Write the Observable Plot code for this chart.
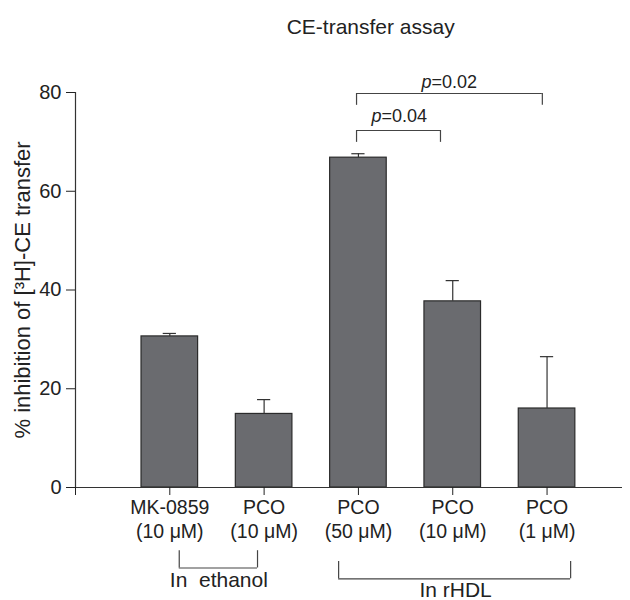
<!DOCTYPE html>
<html>
<head>
<meta charset="utf-8">
<script src="https://cdn.jsdelivr.net/npm/d3@7"></script>
<script src="https://cdn.jsdelivr.net/npm/@observablehq/plot@0.6"></script>
<style>
  html, body { margin: 0; padding: 0; background: #fff; }
  svg { font-family: "Liberation Sans", Arial, Helvetica, sans-serif; }
</style>
</head>
<body>
<div id="chart"></div>
<script>
// ---- data ----
const categories = ["MK-0859", "PCO", "PCO", "PCO", "PCO"];
const doses = ["(10 μM)", "(10 μM)", "(50 μM)", "(10 μM)", "(1 μM)"];
const positions = [1, 2, 3, 4, 5];
const values = [30.6, 14.9, 66.8, 37.7, 16.0];
const errors = [0.6, 2.9, 0.8, 4.2, 10.5];
const yTicks = [0, 20, 40, 60, 80];

// significance brackets (from bar, to bar, level, label anchor, label)
const sigFrom = [2.98, 2.98];
const sigTo = [3.87, 4.95];
const sigLevel = [72.3, 79.8];
const sigTextX = [3.245, 3.775];
const sigTextY = [75.1, 82.1];
const sigLabel = ["=0.04", "=0.02"];

// group brackets below the axis
const groupNames = ["In  ethanol", "In rHDL"];
const groupFrom = [1.1, 2.79];
const groupTo = [1.93, 5.25];
const groupLevel = [-12.8, -15.0];
const groupTextX = [1.52, 4.03];
const groupTextY = [-17.2, -19.15];

const title = "CE-transfer assay";
const yLabel = "% inhibition of [³H]-CE transfer";

// ---- tables ----
const bars = positions.map((p, i) => ({x: p, cat: categories[i], dose: doses[i], v: values[i], e: errors[i]}));
const sig = sigFrom.map((a, i) => ({a, b: sigTo[i], y: sigLevel[i], tx: sigTextX[i], ty: sigTextY[i], label: sigLabel[i]}));
const groups = groupNames.map((n, i) => ({name: n, a: groupFrom[i], b: groupTo[i], y: groupLevel[i], tx: groupTextX[i], ty: groupTextY[i]}));

const hw = 0.3;    // half bar width (x units)
const cap = 0.07;  // half cap width
const drop = 2.4;  // bracket leg length (y units)
const gdrop = 3.5;

const sigLegs = sig.flatMap(d => [{x: d.a, y1: d.y, y2: d.y - drop}, {x: d.b, y1: d.y, y2: d.y - drop}]);
const groupLegs = groups.flatMap(d => [{x: d.a, y1: d.y, y2: d.y - gdrop}, {x: d.b, y1: d.y, y2: d.y - gdrop}]);

const ink = "#333";
const font = '"Liberation Sans", Arial, sans-serif';

const chart = Plot.plot({
  width: 630,
  height: 600,
  marginLeft: 75,
  marginRight: 8,
  marginTop: 92,
  marginBottom: 113,
  style: {fontFamily: font, background: "#fff", overflow: "visible"},
  x: {type: "linear", domain: [0, 5.8], axis: null},
  y: {type: "linear", domain: [0, 80], axis: null},
  marks: [
    // bars
    Plot.rect(bars, {x1: d => d.x - hw, x2: d => d.x + hw, y1: 0, y2: "v", fill: "#6a6b6f", stroke: "#2b2b2b", strokeWidth: 1.2}),
    // error bars
    Plot.ruleX(bars, {x: "x", y1: "v", y2: d => d.v + d.e, stroke: ink, strokeWidth: 1.2}),
    Plot.ruleY(bars, {y: d => d.v + d.e, x1: d => d.x - cap, x2: d => d.x + cap, stroke: ink, strokeWidth: 1.2}),
    // axes lines
    Plot.ruleX([0], {y1: 0, y2: 80, stroke: ink, strokeWidth: 1.2}),
    Plot.ruleY([0], {x1: 0, x2: 5.8, stroke: ink, strokeWidth: 1.2}),
    // y axis ticks + labels
    Plot.axisY({ticks: yTicks, anchor: "left", tickSize: 9, tickPadding: 5, fontSize: 20, color: "#222", label: null}),
    // x axis ticks + labels
    Plot.axisX({ticks: [0, ...positions], anchor: "bottom", tickSize: 8, tickPadding: 2, tickFormat: d => d === 0 ? "" : `${categories[d - 1]}\n${doses[d - 1]}`, fontSize: 19.5, lineHeight: 1.22, color: "#222", label: null}),
    // y label
    Plot.text([yLabel], {x: 0, y: 40, rotate: -90, dx: -53, textAnchor: "middle", fontSize: 22, fill: "#222"}),
    // title
    Plot.text([title], {x: 3.13, y: 93.2, fontSize: 21, fill: "#222"}),
    // significance brackets
    Plot.ruleY(sig, {y: "y", x1: "a", x2: "b", stroke: "#444", strokeWidth: 1.2}),
    Plot.ruleX(sigLegs, {x: "x", y1: "y1", y2: "y2", stroke: "#444", strokeWidth: 1.2}),
    Plot.text(sig, {x: "tx", y: "ty", text: "label", textAnchor: "start", fontSize: 18, fill: "#222"}),
    Plot.text(sig, {x: "tx", y: "ty", text: d => "p", fontStyle: "italic", textAnchor: "end", fontSize: 18, fill: "#222"}),
    // group brackets
    Plot.ruleY(groups, {y: d => d.y - gdrop, x1: "a", x2: "b", stroke: "#444", strokeWidth: 1.2}),
    Plot.ruleX(groupLegs, {x: "x", y1: "y1", y2: "y2", stroke: "#444", strokeWidth: 1.2}),
    Plot.text(groups, {x: "tx", y: "ty", text: "name", lineAnchor: "top", fontSize: 21, fill: "#222"})
  ]
});
document.getElementById("chart").appendChild(chart);
</script>
</body>
</html>
